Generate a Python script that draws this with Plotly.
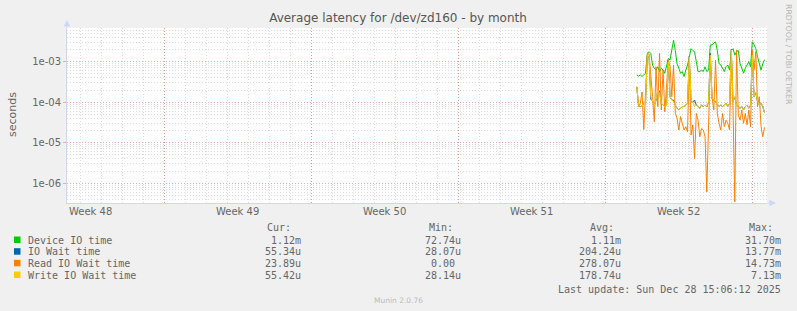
import plotly.graph_objects as go
import pandas as pd

# ---------------- data (seconds), 2-hour samples ----------------
START = "2025-12-22 12:00"
STEP = "2h"

device_io = [4.7e-4, 4.4e-4, 4.7e-4, 4.3e-4, 4.7e-4, 5.2e-4, 1.6e-3, 1.77e-3, 1.6e-3, 8.3e-4,
             6.9e-4, 6.2e-4, 7.5e-4, 5.7e-4, 6.9e-4, 6.2e-4, 5.2e-4, 7.5e-4, 1.2e-3, 1.1e-3,
             1.9e-3, 3.4e-3, 1.9e-3, 9.0e-4, 6.9e-4, 5.2e-4, 5.7e-4, 4.3e-4, 6.2e-4, 8.3e-4,
             1.33e-3, 2.1e-3, 1.9e-3, 1.77e-3, 1.0e-3, 5.7e-4, 5.7e-4, 6.2e-4, 5.7e-4, 7.5e-4,
             5.7e-4, 6.2e-4, 2.6e-3, 2.6e-3, 2.9e-3, 3.1e-3, 1.9e-3, 9.0e-4, 8.3e-4, 6.9e-4,
             5.7e-4, 7.5e-4, 8.3e-4, 6.2e-4, 1.9e-3, 2.1e-3, 1.45e-3, 1.77e-3, 1.9e-3, 9.0e-4,
             6.9e-4, 5.2e-4, 6.9e-4, 8.3e-4, 1.0e-3, 7.5e-4, 3.1e-3, 2.6e-3, 2.1e-3, 1.33e-3,
             8.3e-4, 6.2e-4, 9.0e-4, 1.12e-3]

io_wait = [2.4e-4, 8.3e-5, 7.8e-5, 8.0e-5, 1.0e-4, 9.6e-5, 1.38e-3, 1.3e-3, 1.17e-4, 1.1e-4,
           8.5e-5, 1.1e-4, 1.95e-4, 1.9e-4, 9.2e-5, 8.7e-5, 7.8e-5, 8.5e-5, 1.1e-3, 1.35e-4,
           1.13e-4, 1.13e-4, 8.5e-5, 7.1e-5, 6.5e-5, 7.1e-5, 7.7e-5, 7.8e-5, 8.5e-5, 9.4e-5,
           1.38e-3, 1.1e-4, 1.0e-4, 1.13e-4, 8.5e-5, 7.8e-5, 7.1e-5, 8.5e-5, 7.8e-5, 8.5e-5,
           7.6e-5, 1.0e-4, 1.6e-3, 1.25e-4, 1.1e-4, 1.05e-4, 8.5e-5, 7.8e-5, 8.5e-5, 7.8e-5,
           8.5e-5, 9.4e-5, 7.8e-5, 9.4e-5, 2.0e-3, 1.03e-4, 1.35e-4, 8.5e-5, 7.8e-5, 7.1e-5,
           7.8e-5, 6.4e-5, 7.8e-5, 8.5e-5, 7.1e-5, 8.5e-5, 1.55e-3, 1.37e-4, 1.7e-4, 1.03e-4,
           8.5e-5, 9.4e-5, 7.8e-5, 5.53e-5]

read_wait = [2.4e-4, 7.8e-5, 9.4e-5, 1.8e-4, 2.1e-5, 1.37e-4, 1.46e-3, 1.6e-3, 3.5e-4, 1.37e-4,
             3.3e-5, 7.5e-4, 7.8e-5, 1.6e-3, 6.4e-5, 6.2e-4, 5.8e-5, 3.5e-4, 1.1e-3, 7.5e-4,
             1.37e-4, 8.3e-4, 5.3e-5, 4.0e-5, 2.05e-5, 4.4e-5, 3.0e-5, 2.05e-5, 2.5e-5, 1.87e-5,
             1.2e-3, 1.55e-5, 2.75e-5, 4.1e-6, 5.3e-5, 3.6e-5, 1.4e-5, 2.25e-5, 2.05e-5, 1.4e-5,
             6.1e-7, 1.4e-5, 1.1e-3, 1.37e-4, 6.4e-5, 1.1e-3, 5.3e-5, 3.0e-5, 2.05e-5, 5.3e-5,
             2.5e-5, 3.6e-5, 3.0e-5, 2.05e-5, 1.6e-3, 6.4e-5, 3.5e-7, 1.94e-3, 4.8e-5, 3.6e-5,
             6.4e-5, 3.0e-5, 5.3e-5, 2.75e-5, 6.4e-5, 2.5e-5, 1.94e-3, 6.2e-4, 1.77e-3, 7.8e-5,
             1.37e-4, 2.5e-5, 1.4e-5, 2.39e-5]

write_wait = [2.4e-4, 8.5e-5, 7.8e-5, 7.8e-5, 1.03e-4, 9.4e-5, 1.46e-3, 1.33e-3, 1.37e-4, 1.13e-4,
              8.5e-5, 1.13e-4, 2.0e-4, 1.65e-4, 9.4e-5, 8.5e-5, 7.8e-5, 8.5e-5, 1.0e-3, 1.37e-4,
              1.13e-4, 1.03e-4, 8.5e-5, 7.1e-5, 6.4e-5, 7.1e-5, 7.8e-5, 7.8e-5, 8.5e-5, 9.4e-5,
              1.33e-3, 1.13e-4, 1.03e-4, 7.8e-5, 8.5e-5, 7.8e-5, 7.1e-5, 8.5e-5, 7.8e-5, 8.5e-5,
              7.8e-5, 1.03e-4, 1.46e-3, 1.25e-4, 1.13e-4, 1.03e-4, 8.5e-5, 7.8e-5, 8.5e-5, 7.8e-5,
              8.5e-5, 9.4e-5, 7.8e-5, 9.4e-5, 1.94e-3, 1.03e-4, 1.37e-4, 8.5e-5, 7.8e-5, 7.1e-5,
              7.8e-5, 6.4e-5, 7.8e-5, 8.5e-5, 7.1e-5, 8.5e-5, 1.46e-3, 1.37e-4, 1.8e-4, 1.03e-4,
              8.5e-5, 9.4e-5, 7.8e-5, 5.54e-5]

series_names = ["Device IO time", "IO Wait time", "Read IO Wait time", "Write IO Wait time"]
series_colors = ["#00CC00", "#0066B3", "#FF8000", "#FFCC00"]
stat_cur = ["1.12m", "55.34u", "23.89u", "55.42u"]
stat_min = ["72.74u", "28.07u", "0.00\u00a0", "28.14u"]
stat_avg = ["1.11m", "204.24u", "278.07u", "178.74u"]
stat_max = ["31.70m", "13.77m", "14.73m", "7.13m"]

week_lines = ["2025-11-30", "2025-12-07", "2025-12-14", "2025-12-21", "2025-12-28"]
week_label_pos = ["2025-11-26 12:00", "2025-12-03 12:00", "2025-12-10 12:00",
                  "2025-12-17 12:00", "2025-12-24 12:00"]
week_labels = ["Week 48", "Week 49", "Week 50", "Week 51", "Week 52"]
y_major = [1e-6, 1e-5, 1e-4, 1e-3]
y_major_text = ["1e-06", "1e-05", "1e-04", "1e-03"]

X_RANGE = ["2025-11-25 08:48", "2025-12-28 16:48"]
Y_RANGE = [-6.489, -2.168]

# ---------------- layout geometry ----------------
W, H = 797, 311
L, R, T, B = 67, 30, 28, 108
PW, PH = W - L - R, H - T - B


def px(xp):
    return (xp - L) / PW


def py(yp):
    return (H - B - yp) / PH


FONT = "DejaVu Sans"
MONO = "DejaVu Sans Mono"
FCOL = "#666666"
AXCOL = "#CFD6F8"
MINOR_GRID = "rgba(150,150,150,0.32)"
MAJOR_GRID = "rgba(225,80,80,0.45)"
DASH = "1px,2px"

times = pd.date_range(START, periods=len(device_io), freq=STEP)
days = pd.date_range("2025-11-26", "2025-12-28", freq="1D")
y_minor = [k * 10.0 ** e for e in range(-7, -2) for k in range(2, 10)]

fig = go.Figure()
for name, col, vals in zip(series_names, series_colors,
                           [device_io, io_wait, read_wait, write_wait]):
    fig.add_trace(go.Scatter(x=times, y=vals, mode="lines", name=name,
                             line=dict(color=col, width=1), showlegend=False,
                             hoverinfo="skip"))

fig.update_layout(
    width=W, height=H,
    margin=dict(l=L, r=R, t=T, b=B, pad=0),
    paper_bgcolor="#F0F0F0", plot_bgcolor="#FFFFFF",
    font=dict(family=FONT, size=10, color=FCOL),
    title=dict(text="Average latency for /dev/zd160 - by month",
               x=398 / W, xanchor="center", y=1 - 18 / H, yanchor="middle",
               xref="container", yref="container",
               font=dict(family=FONT, size=12, color="#555555")),
    xaxis=dict(type="date", range=X_RANGE, showline=True, linecolor=AXCOL, linewidth=1,
               tickmode="array", tickvals=week_lines, showticklabels=False, ticks="",
               showgrid=True, gridcolor=MAJOR_GRID, griddash=DASH, gridwidth=1,
               zeroline=False, fixedrange=True,
               minor=dict(tickmode="array", tickvals=list(days), showgrid=True,
                          gridcolor=MINOR_GRID, griddash=DASH, gridwidth=1, ticks="")),
    yaxis=dict(type="log", range=Y_RANGE, showline=True, linecolor=AXCOL, linewidth=1,
               tickmode="array", tickvals=y_major, ticktext=y_major_text,
               ticks="outside", ticklen=3, tickcolor=MAJOR_GRID,
               tickfont=dict(family=FONT, size=10, color=FCOL),
               showgrid=True, gridcolor=MAJOR_GRID, griddash=DASH, gridwidth=1,
               zeroline=False, fixedrange=True,
               minor=dict(tickmode="array", tickvals=y_minor, showgrid=True,
                          gridcolor=MINOR_GRID, griddash=DASH, gridwidth=1, ticks="")),
)

ann = []
# week labels
for pos, lab in zip(week_label_pos, week_labels):
    ann.append(dict(x=pos, xref="x", y=py(211.5), yref="paper", text=lab, showarrow=False,
                    xanchor="center", yanchor="middle",
                    font=dict(family=FONT, size=10, color=FCOL)))
# y axis title
ann.append(dict(x=px(12), y=py(115), xref="paper", yref="paper", text="seconds",
                textangle=-90, showarrow=False, xanchor="center", yanchor="middle",
                font=dict(family=FONT, size=11, color=FCOL)))
# right side credit
ann.append(dict(x=px(789), y=py(54), xref="paper", yref="paper", text="RRDTOOL / TOBI OETIKER",
                textangle=90, showarrow=False, xanchor="center", yanchor="middle",
                font=dict(family=FONT, size=7.8, color="#B4B4B4")))
# axis arrows
ann.append(dict(x=px(67), y=py(20), xref="paper", yref="paper", text="", showarrow=True,
                ax=0, ay=9, arrowhead=2, arrowsize=1.3, arrowwidth=1, arrowcolor=AXCOL))
ann.append(dict(x=px(776), y=py(203), xref="paper", yref="paper", text="", showarrow=True,
                ax=-10, ay=0, arrowhead=2, arrowsize=1.3, arrowwidth=1, arrowcolor=AXCOL))

# legend table
hdr_y = 227.5
row_y = [240, 251.7, 263.3, 275.0]
for txt, xl in zip(["Cur:", "Min:", "Avg:", "Max:"], [265, 426.5, 587.5, 746.5]):
    ann.append(dict(x=px(xl), y=py(hdr_y), xref="paper", yref="paper", text=txt,
                    showarrow=False, xanchor="left", yanchor="middle",
                    font=dict(family=MONO, size=10, color=FCOL)))
shapes = []
for i, (name, col) in enumerate(zip(series_names, series_colors)):
    yy = row_y[i]
    shapes.append(dict(type="rect", xref="paper", yref="paper",
                       x0=px(14), x1=px(20.5), y0=py(yy + 3), y1=py(yy - 3.5),
                       fillcolor=col, line=dict(width=0)))
    ann.append(dict(x=px(26), y=py(yy), xref="paper", yref="paper", text=name,
                    showarrow=False, xanchor="left", yanchor="middle",
                    font=dict(family=MONO, size=10, color=FCOL)))
    for vals, xr in zip([stat_cur, stat_min, stat_avg, stat_max], [302.5, 463.3, 623.3, 783.3]):
        ann.append(dict(x=px(xr), y=py(yy), xref="paper", yref="paper", text=vals[i],
                        showarrow=False, xanchor="right", yanchor="middle",
                        font=dict(family=MONO, size=10, color=FCOL)))

ann.append(dict(x=px(783.3), y=py(289), xref="paper", yref="paper",
                text="Last update: Sun Dec 28 15:06:12 2025",
                showarrow=False, xanchor="right", yanchor="middle",
                font=dict(family=MONO, size=10, color=FCOL)))
ann.append(dict(x=px(398.5), y=py(300.5), xref="paper", yref="paper", text="Munin 2.0.76",
                showarrow=False, xanchor="center", yanchor="middle",
                font=dict(family=FONT, size=7.5, color="#BBBBBB")))

fig.update_layout(annotations=ann, shapes=shapes)
fig.write_html("out.html", config={"displayModeBar": False})
